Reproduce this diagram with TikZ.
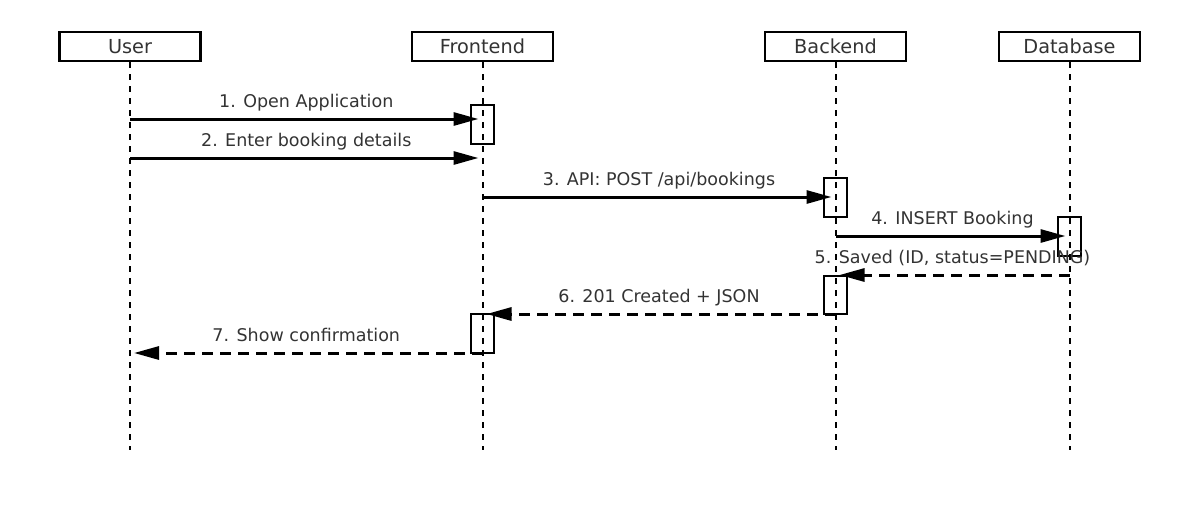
\documentclass[tikz,border=0pt]{standalone}
\usepackage{fontspec}
\setmainfont{DejaVu Sans}
\usetikzlibrary{positioning}
\usetikzlibrary{arrows.meta}
\tikzset{
    actor/.style = {rectangle, line width=2.2pt, draw=black, minimum width=141pt, minimum height=29pt, inner sep=0pt, text=black!80, font=\fontsize{19.3}{22}\selectfont},
    actbox/.style = {rectangle, line width=2.2pt, draw=black, minimum width=23pt, minimum height=39pt, inner sep=0pt},
    lifeline/.style = {-, line width=2pt, black, dash pattern=on 6pt off 6pt},
    msg/.style = {-{Triangle[length=25pt,width=13pt]}, line width=3pt, black, shorten >=4pt},
    reply/.style = {msg, dash pattern=on 11pt off 7pt}, % return
    msglabel/.style = {midway, anchor=base, yshift=12pt, text=black!80},
    every picture/.style={font issue=\fontsize{17.5}{21}},
    font issue/.style={execute at begin picture={#1\selectfont}}
}
\begin{document}
\begin{tikzpicture}[x=1pt,y=-1pt]
\path[use as bounding box] (0,0) rectangle (1200,512);
\node[actor] at (130,46.5) (user) {User};
\node[actor] at (482.5,46.5) (front) {Frontend};
\node[actor] at (835.5,46.5) (back) {Backend};
\node[actor] at (1069.5,46.5) (db) {Database};
%
\coordinate (userend) at (130,450);
\coordinate (frontend) at (482.5,450);
\coordinate (backend) at (835.5,450);
\coordinate (dbend) at (1069.5,450);
\draw[lifeline] (user) -- (userend);
\draw[lifeline] (front) -- (frontend);
\draw[lifeline] (back) -- (backend);
\draw[lifeline] (db) -- (dbend);
%
\node[actbox] at (482.5,124.5) (fa1) {};
\node[actbox] at (835.5,197.5) (ba1) {};
\node[actbox] at (1069.5,236.5) (da1) {};
\node[actbox, minimum height=38pt] at (835.5,295) (ba2) {};
\node[actbox] at (482.5,333.5) (fa2) {};
%
\coordinate (r1) at (0,119);
\coordinate (r2) at (0,158);
\coordinate (r3) at (0,197);
\coordinate (r4) at (0,236);
\coordinate (r5) at (0,275);
\coordinate (r6) at (0,314);
\coordinate (r7) at (0,353);
%
\draw[msg] (user |- r1) -- (front |- r1) node[msglabel] {1. Open Application};
\draw[msg] (user |- r2) -- (front |- r2) node[msglabel] {2. Enter booking details};
\draw[msg] (front |- r3) -- (back |- r3) node[msglabel] {3. API: POST /api/bookings};
\draw[msg] (back |- r4) -- (db |- r4) node[msglabel] {4. INSERT Booking};
\draw[reply] (db |- r5) -- (back |- r5) node[msglabel] {5. Saved (ID, status=PENDING)};
\draw[reply] (back |- r6) -- (front |- r6) node[msglabel] {6. 201 Created + JSON};
\draw[reply] (front |- r7) -- (user |- r7) node[msglabel] {7. Show confirmation};
\end{tikzpicture}
\end{document}
